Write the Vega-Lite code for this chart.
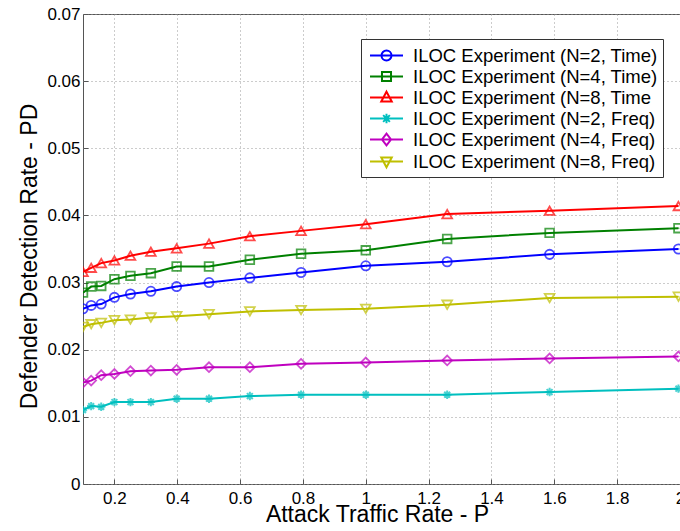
{
  "$schema": "https://vega.github.io/schema/vega-lite/v6.json",
  "width": 597,
  "height": 470,
  "autosize": {"type": "none"},
  "padding": {"left": 83, "top": 14, "right": 0, "bottom": 47},
  "background": "white",
  "config": {
    "font": "Liberation Sans",
    "view": {"stroke": "#555", "strokeWidth": 1},
    "axis": {
      "domain": false,
      "grid": true,
      "gridDash": [1, 3],
      "gridColor": "#999",
      "gridWidth": 1,
      "ticks": true,
      "tickColor": "#555",
      "tickSize": -5,
      "labelFont": "Liberation Sans",
      "labelFontSize": 17,
      "labelColor": "#000",
      "titleFont": "Liberation Sans",
      "titleFontSize": 23,
      "titleFontWeight": "normal",
      "titleColor": "#000"
    }
  },
  "data": {
    "values": [
      {"p": 0.1, "series": "ILOC Experiment (N=2, Time)", "v": 0.0261},
      {"p": 0.126, "series": "ILOC Experiment (N=2, Time)", "v": 0.0266},
      {"p": 0.158, "series": "ILOC Experiment (N=2, Time)", "v": 0.0268},
      {"p": 0.2, "series": "ILOC Experiment (N=2, Time)", "v": 0.0278},
      {"p": 0.251, "series": "ILOC Experiment (N=2, Time)", "v": 0.0283},
      {"p": 0.316, "series": "ILOC Experiment (N=2, Time)", "v": 0.0287},
      {"p": 0.398, "series": "ILOC Experiment (N=2, Time)", "v": 0.0294},
      {"p": 0.501, "series": "ILOC Experiment (N=2, Time)", "v": 0.0300},
      {"p": 0.631, "series": "ILOC Experiment (N=2, Time)", "v": 0.0307},
      {"p": 0.794, "series": "ILOC Experiment (N=2, Time)", "v": 0.0315},
      {"p": 1.0, "series": "ILOC Experiment (N=2, Time)", "v": 0.0325},
      {"p": 1.259, "series": "ILOC Experiment (N=2, Time)", "v": 0.0331},
      {"p": 1.585, "series": "ILOC Experiment (N=2, Time)", "v": 0.0342},
      {"p": 1.995, "series": "ILOC Experiment (N=2, Time)", "v": 0.0350},

      {"p": 0.1, "series": "ILOC Experiment (N=4, Time)", "v": 0.0285},
      {"p": 0.126, "series": "ILOC Experiment (N=4, Time)", "v": 0.0294},
      {"p": 0.158, "series": "ILOC Experiment (N=4, Time)", "v": 0.0295},
      {"p": 0.2, "series": "ILOC Experiment (N=4, Time)", "v": 0.0305},
      {"p": 0.251, "series": "ILOC Experiment (N=4, Time)", "v": 0.0310},
      {"p": 0.316, "series": "ILOC Experiment (N=4, Time)", "v": 0.0314},
      {"p": 0.398, "series": "ILOC Experiment (N=4, Time)", "v": 0.0324},
      {"p": 0.501, "series": "ILOC Experiment (N=4, Time)", "v": 0.0324},
      {"p": 0.631, "series": "ILOC Experiment (N=4, Time)", "v": 0.0334},
      {"p": 0.794, "series": "ILOC Experiment (N=4, Time)", "v": 0.0343},
      {"p": 1.0, "series": "ILOC Experiment (N=4, Time)", "v": 0.0348},
      {"p": 1.259, "series": "ILOC Experiment (N=4, Time)", "v": 0.0365},
      {"p": 1.585, "series": "ILOC Experiment (N=4, Time)", "v": 0.0374},
      {"p": 1.995, "series": "ILOC Experiment (N=4, Time)", "v": 0.0381},

      {"p": 0.1, "series": "ILOC Experiment (N=8, Time", "v": 0.0316},
      {"p": 0.126, "series": "ILOC Experiment (N=8, Time", "v": 0.0322},
      {"p": 0.158, "series": "ILOC Experiment (N=8, Time", "v": 0.0329},
      {"p": 0.2, "series": "ILOC Experiment (N=8, Time", "v": 0.0333},
      {"p": 0.251, "series": "ILOC Experiment (N=8, Time", "v": 0.0340},
      {"p": 0.316, "series": "ILOC Experiment (N=8, Time", "v": 0.0346},
      {"p": 0.398, "series": "ILOC Experiment (N=8, Time", "v": 0.0351},
      {"p": 0.501, "series": "ILOC Experiment (N=8, Time", "v": 0.0358},
      {"p": 0.631, "series": "ILOC Experiment (N=8, Time", "v": 0.0369},
      {"p": 0.794, "series": "ILOC Experiment (N=8, Time", "v": 0.0377},
      {"p": 1.0, "series": "ILOC Experiment (N=8, Time", "v": 0.0387},
      {"p": 1.259, "series": "ILOC Experiment (N=8, Time", "v": 0.0402},
      {"p": 1.585, "series": "ILOC Experiment (N=8, Time", "v": 0.0407},
      {"p": 1.995, "series": "ILOC Experiment (N=8, Time", "v": 0.0414},

      {"p": 0.1, "series": "ILOC Experiment (N=2, Freq)", "v": 0.0110},
      {"p": 0.126, "series": "ILOC Experiment (N=2, Freq)", "v": 0.0116},
      {"p": 0.158, "series": "ILOC Experiment (N=2, Freq)", "v": 0.0115},
      {"p": 0.2, "series": "ILOC Experiment (N=2, Freq)", "v": 0.0122},
      {"p": 0.251, "series": "ILOC Experiment (N=2, Freq)", "v": 0.0122},
      {"p": 0.316, "series": "ILOC Experiment (N=2, Freq)", "v": 0.0122},
      {"p": 0.398, "series": "ILOC Experiment (N=2, Freq)", "v": 0.0127},
      {"p": 0.501, "series": "ILOC Experiment (N=2, Freq)", "v": 0.0127},
      {"p": 0.631, "series": "ILOC Experiment (N=2, Freq)", "v": 0.0131},
      {"p": 0.794, "series": "ILOC Experiment (N=2, Freq)", "v": 0.0133},
      {"p": 1.0, "series": "ILOC Experiment (N=2, Freq)", "v": 0.0133},
      {"p": 1.259, "series": "ILOC Experiment (N=2, Freq)", "v": 0.0133},
      {"p": 1.585, "series": "ILOC Experiment (N=2, Freq)", "v": 0.0137},
      {"p": 1.995, "series": "ILOC Experiment (N=2, Freq)", "v": 0.0142},

      {"p": 0.1, "series": "ILOC Experiment (N=4, Freq)", "v": 0.0151},
      {"p": 0.126, "series": "ILOC Experiment (N=4, Freq)", "v": 0.0154},
      {"p": 0.158, "series": "ILOC Experiment (N=4, Freq)", "v": 0.0162},
      {"p": 0.2, "series": "ILOC Experiment (N=4, Freq)", "v": 0.0164},
      {"p": 0.251, "series": "ILOC Experiment (N=4, Freq)", "v": 0.0168},
      {"p": 0.316, "series": "ILOC Experiment (N=4, Freq)", "v": 0.0169},
      {"p": 0.398, "series": "ILOC Experiment (N=4, Freq)", "v": 0.0170},
      {"p": 0.501, "series": "ILOC Experiment (N=4, Freq)", "v": 0.0174},
      {"p": 0.631, "series": "ILOC Experiment (N=4, Freq)", "v": 0.0174},
      {"p": 0.794, "series": "ILOC Experiment (N=4, Freq)", "v": 0.0179},
      {"p": 1.0, "series": "ILOC Experiment (N=4, Freq)", "v": 0.0181},
      {"p": 1.259, "series": "ILOC Experiment (N=4, Freq)", "v": 0.0184},
      {"p": 1.585, "series": "ILOC Experiment (N=4, Freq)", "v": 0.0187},
      {"p": 1.995, "series": "ILOC Experiment (N=4, Freq)", "v": 0.0190},

      {"p": 0.1, "series": "ILOC Experiment (N=8, Freq)", "v": 0.0234},
      {"p": 0.126, "series": "ILOC Experiment (N=8, Freq)", "v": 0.0238},
      {"p": 0.158, "series": "ILOC Experiment (N=8, Freq)", "v": 0.0240},
      {"p": 0.2, "series": "ILOC Experiment (N=8, Freq)", "v": 0.0244},
      {"p": 0.251, "series": "ILOC Experiment (N=8, Freq)", "v": 0.0245},
      {"p": 0.316, "series": "ILOC Experiment (N=8, Freq)", "v": 0.0248},
      {"p": 0.398, "series": "ILOC Experiment (N=8, Freq)", "v": 0.0250},
      {"p": 0.501, "series": "ILOC Experiment (N=8, Freq)", "v": 0.0253},
      {"p": 0.631, "series": "ILOC Experiment (N=8, Freq)", "v": 0.0257},
      {"p": 0.794, "series": "ILOC Experiment (N=8, Freq)", "v": 0.0259},
      {"p": 1.0, "series": "ILOC Experiment (N=8, Freq)", "v": 0.0261},
      {"p": 1.259, "series": "ILOC Experiment (N=8, Freq)", "v": 0.0267},
      {"p": 1.585, "series": "ILOC Experiment (N=8, Freq)", "v": 0.0277},
      {"p": 1.995, "series": "ILOC Experiment (N=8, Freq)", "v": 0.0279}
    ]
  },
  "encoding": {
    "x": {
      "field": "p",
      "type": "quantitative",
      "scale": {"domain": [0.1, 2], "nice": false, "zero": false},
      "axis": {
        "values": [0.2, 0.4, 0.6, 0.8, 1, 1.2, 1.4, 1.6, 1.8, 2],
        "format": ".1~f",
        "title": "Attack Traffic Rate - P",
        "labelPadding": 11,
        "labelFlush": false,
        "titleBaseline": "alphabetic",
        "titleY": 37,
        "titleX": 294
      }
    },
    "y": {
      "field": "v",
      "type": "quantitative",
      "scale": {"domain": [0, 0.07], "nice": false},
      "axis": {
        "values": [0, 0.01, 0.02, 0.03, 0.04, 0.05, 0.06, 0.07],
        "labelExpr": "datum.value == 0 ? '0' : format(datum.value, '.2f')",
        "title": "Defender Detection Rate - PD",
        "labelPadding": 8,
        "labelFlush": false,
        "titleBaseline": "alphabetic",
        "titleX": -47,
        "titleY": 242
      }
    }
  },
  "layer": [
    {
      "mark": {"type": "point", "filled": false, "size": 1, "strokeWidth": 0.5, "clip": true},
      "encoding": {
        "stroke": {
          "field": "series",
          "type": "nominal",
          "scale": {
            "domain": ["ILOC Experiment (N=2, Time)", "ILOC Experiment (N=4, Time)", "ILOC Experiment (N=8, Time", "ILOC Experiment (N=2, Freq)", "ILOC Experiment (N=4, Freq)", "ILOC Experiment (N=8, Freq)"],
            "range": ["#0000FF", "#008000", "#FF0000", "#00BFBF", "#BF00BF", "#BFBF00"]
          },
          "legend": {
            "title": null,
            "orient": "none",
            "legendX": 278,
            "legendY": 25,
            "strokeColor": "#333",
            "fillColor": "white",
            "padding": 5,
            "labelFontSize": 18.5,
            "labelFont": "Liberation Sans",
            "labelColor": "#000",
            "labelOffset": 24,
            "labelLimit": 400,
            "symbolSize": 441,
            "symbolStrokeWidth": 2,
            "symbolOpacity": 1,
            "rowPadding": -2
          }
        },
        "shape": {
          "field": "series",
          "type": "nominal",
          "scale": {
            "domain": ["ILOC Experiment (N=2, Time)", "ILOC Experiment (N=4, Time)", "ILOC Experiment (N=8, Time", "ILOC Experiment (N=2, Freq)", "ILOC Experiment (N=4, Freq)", "ILOC Experiment (N=8, Freq)"],
            "range": [
              "M-0.714,0L2.43,0M1.333,0A0.476,0.476,0,1,1,0.381,0A0.476,0.476,0,1,1,1.333,0",
              "M-0.714,0L2.43,0M0.427,-0.43L1.287,-0.43L1.287,0.43L0.427,0.43Z",
              "M-0.714,0L2.43,0M0.857,-0.55L1.357,0.38L0.357,0.38Z",
              "M-0.714,0L2.43,0M0.857,-0.45L0.857,0.45M0.537,-0.32L1.177,0.32M0.537,0.32L1.177,-0.32",
              "M-0.714,0L2.43,0M0.857,-0.55L1.287,0L0.857,0.55L0.427,0Z",
              "M-0.714,0L2.43,0M0.857,0.55L1.357,-0.38L0.357,-0.38Z"
            ]
          },
          "legend": {
            "title": null,
            "orient": "none",
            "legendX": 278,
            "legendY": 25,
            "strokeColor": "#333",
            "fillColor": "white",
            "padding": 5,
            "labelFontSize": 18.5,
            "labelFont": "Liberation Sans",
            "labelColor": "#000",
            "labelOffset": 24,
            "labelLimit": 400,
            "symbolSize": 441,
            "symbolStrokeWidth": 2,
            "symbolOpacity": 1,
            "rowPadding": -2
          }
        }
      }
    },
    {
      "mark": {"type": "line", "strokeWidth": 2, "clip": true},
      "encoding": {
        "color": {
          "field": "series",
          "type": "nominal",
          "scale": {
            "domain": ["ILOC Experiment (N=2, Time)", "ILOC Experiment (N=4, Time)", "ILOC Experiment (N=8, Time", "ILOC Experiment (N=2, Freq)", "ILOC Experiment (N=4, Freq)", "ILOC Experiment (N=8, Freq)"],
            "range": ["#0000FF", "#008000", "#FF0000", "#00BFBF", "#BF00BF", "#BFBF00"]
          },
          "legend": null
        }
      }
    },
    {
      "transform": [{"filter": "datum.series == 'ILOC Experiment (N=2, Time)'"}],
      "mark": {"type": "point", "shape": "circle", "filled": false, "strokeWidth": 1.8, "size": 85, "clip": true},
      "encoding": {"color": {"field": "series", "type": "nominal", "legend": null}}
    },
    {
      "transform": [{"filter": "datum.series == 'ILOC Experiment (N=4, Time)'"}],
      "mark": {"type": "point", "shape": "square", "filled": false, "strokeWidth": 1.8, "size": 75, "clip": true},
      "encoding": {"color": {"field": "series", "type": "nominal", "legend": null}}
    },
    {
      "transform": [{"filter": "datum.series == 'ILOC Experiment (N=8, Time'"}],
      "mark": {"type": "point", "shape": "triangle-up", "filled": false, "strokeWidth": 1.8, "size": 95, "clip": true},
      "encoding": {"color": {"field": "series", "type": "nominal", "legend": null}}
    },
    {
      "transform": [{"filter": "datum.series == 'ILOC Experiment (N=2, Freq)'"}],
      "mark": {"type": "point", "shape": "M-1,0L1,0M0,-1L0,1M-0.7,-0.7L0.7,0.7M-0.7,0.7L0.7,-0.7", "filled": false, "strokeWidth": 2, "size": 70, "clip": true},
      "encoding": {"color": {"field": "series", "type": "nominal", "legend": null}}
    },
    {
      "transform": [{"filter": "datum.series == 'ILOC Experiment (N=4, Freq)'"}],
      "mark": {"type": "point", "shape": "diamond", "filled": false, "strokeWidth": 1.8, "size": 95, "clip": true},
      "encoding": {"color": {"field": "series", "type": "nominal", "legend": null}}
    },
    {
      "transform": [{"filter": "datum.series == 'ILOC Experiment (N=8, Freq)'"}],
      "mark": {"type": "point", "shape": "triangle-down", "filled": false, "strokeWidth": 1.8, "size": 95, "clip": true},
      "encoding": {"color": {"field": "series", "type": "nominal", "legend": null}}
    }
  ]
}
